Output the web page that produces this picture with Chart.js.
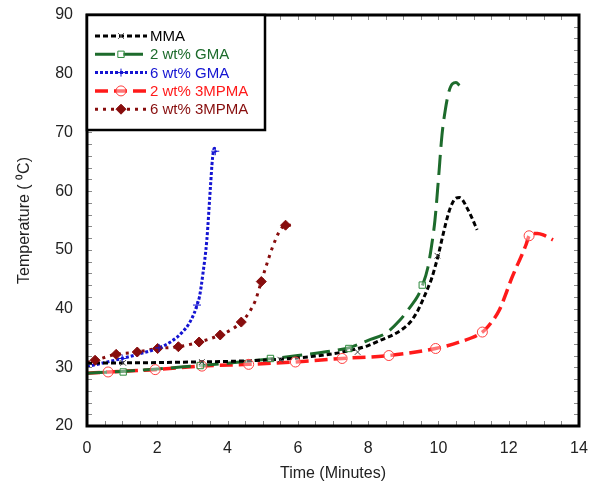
<!DOCTYPE html>
<html><head><meta charset="utf-8">
<script src="https://cdn.jsdelivr.net/npm/chart.js@4/dist/chart.umd.min.js"></script>
<style>html,body{margin:0;padding:0;background:#fff}#wrap{width:601px;height:493px}</style>
</head><body><div id="wrap"><canvas id="c" width="601" height="493"></canvas></div>
<script>
// ---- data ----
const seriesNames = ["MMA", "2 wt% GMA", "6 wt% GMA", "2 wt% 3MPMA", "6 wt% 3MPMA"];

const mmaTime = [0, 1, 2, 3, 4, 5, 6, 7, 7.5, 8, 8.35, 8.7, 9.0, 9.2, 9.4, 9.55, 9.7, 9.8, 9.9, 10.0, 10.1, 10.2, 10.3, 10.4, 10.5, 10.6, 10.7, 10.8, 10.95, 11.1];
const mmaTemp = [30.7, 30.75, 30.8, 30.9, 31.0, 31.2, 31.6, 32.3, 32.9, 33.7, 34.6, 35.5, 36.6, 37.7, 39.5, 41.4, 43.5, 45.0, 47.0, 49.2, 51.8, 54.3, 56.5, 58.0, 58.8, 58.9, 58.4, 57.3, 55.5, 53.4];
const mmaMarkTime = [1.03, 3.27, 5.5, 7.7, 9.97];
const mmaMarkTemp = [30.75, 30.9, 31.3, 32.6, 49.0];

const gma2Time = [0, 1, 2, 3, 4, 5, 6, 7, 7.5, 8, 8.5, 8.9, 9.2, 9.4, 9.55, 9.7, 9.8, 9.9, 10.0, 10.1, 10.2, 10.3, 10.4, 10.5, 10.6];
const gma2Temp = [29.0, 29.3, 29.7, 30.2, 30.7, 31.3, 32.0, 32.8, 33.4, 34.6, 35.8, 38.0, 40.3, 42.0, 44.0, 47.0, 50.5, 55.0, 62.0, 69.5, 74.0, 77.0, 78.3, 78.5, 78.0];
const gma2MarkTime = [1.03, 3.22, 5.22, 7.45, 9.54];
const gma2MarkTemp = [29.2, 30.3, 31.5, 33.2, 44.0];

const gma6Time = [0, 0.5, 1.0, 1.5, 2.0, 2.4, 2.7, 2.9, 3.05, 3.13, 3.2, 3.3, 3.41, 3.51, 3.57, 3.62, 3.67];
const gma6Temp = [30.1, 30.8, 31.5, 32.3, 33.2, 34.4, 35.9, 37.4, 39.2, 40.6, 42.0, 46.0, 51.7, 60.5, 65.5, 67.3, 66.6];
const gma6MarkTime = [1.0, 2.05, 3.13, 3.65];
const gma6MarkTemp = [31.5, 33.3, 40.6, 66.8];

const mpma2Time = [0, 0.6, 1.94, 3.27, 4.6, 5.93, 7.26, 8.59, 9.92, 10.6, 11.25, 11.5, 11.73, 11.9, 12.06, 12.2, 12.35, 12.5, 12.58, 12.7, 12.82, 13.0, 13.26];
const mpma2Temp = [29.0, 29.2, 29.6, 30.2, 30.5, 30.9, 31.5, 32.0, 33.2, 34.3, 36.0, 37.6, 39.7, 42.2, 44.8, 46.8, 48.8, 51.0, 52.4, 52.8, 52.8, 52.5, 51.7];
const mpma2MarkTime = [0.6, 1.94, 3.27, 4.6, 5.93, 7.26, 8.59, 9.92, 11.25, 12.58];
const mpma2MarkTemp = [29.2, 29.6, 30.2, 30.5, 30.9, 31.5, 32.0, 33.2, 36.0, 52.4];

const mpma6Time = [0, 0.23, 0.83, 1.43, 2.01, 2.6, 3.19, 3.79, 4.1, 4.39, 4.6, 4.8, 4.96, 5.08, 5.27, 5.49, 5.65, 5.8];
const mpma6Temp = [30.8, 31.2, 32.2, 32.6, 33.2, 33.5, 34.3, 35.5, 36.4, 37.7, 39.2, 41.5, 44.6, 46.9, 50.3, 53.3, 54.2, 54.2];
const mpma6MarkTime = [0.23, 0.83, 1.43, 2.01, 2.6, 3.19, 3.79, 4.39, 4.96, 5.65];
const mpma6MarkTemp = [31.2, 32.2, 32.6, 33.2, 33.5, 34.3, 35.5, 37.7, 44.6, 54.2];

const xTicks = [0, 2, 4, 6, 8, 10, 12, 14];
const yTicks = [20, 30, 40, 50, 60, 70, 80, 90];

// ---- styles ----
const colors = ["#000000", "#1d6b2c", "#1414d2", "#ff1a1a", "#870d0d"];
const dashes = [[5, 3], [20, 8], [3, 2], [13, 6], [3, 5]];
const widths = [3, 3, 3, 3.5, 3];
const pStyles = ["crossRot", "rect", "cross", "circle", "rectRot"];
const pRadius = [4, 4.5, 4, 5, 5];
const pFill = ["transparent", "rgba(255,255,255,0.4)", "transparent", "rgba(255,255,255,0.4)", "#870d0d"];
const pBorder = ["#444", "#2e8b3e", "#1414d2", "#ff4040", "#870d0d"];

function pts(xs, ys) { return xs.map((x, i) => ({x: x, y: ys[i]})); }
const lineData = [pts(mmaTime, mmaTemp), pts(gma2Time, gma2Temp), pts(gma6Time, gma6Temp), pts(mpma2Time, mpma2Temp), pts(mpma6Time, mpma6Temp)];
const markData = [pts(mmaMarkTime, mmaMarkTemp), pts(gma2MarkTime, gma2MarkTemp), pts(gma6MarkTime, gma6MarkTemp), pts(mpma2MarkTime, mpma2MarkTemp), pts(mpma6MarkTime, mpma6MarkTemp)];

const datasets = [];
for (let i = 0; i < 5; i++) {
  datasets.push({
    label: seriesNames[i], data: lineData[i], showLine: true,
    borderColor: colors[i], borderWidth: widths[i], borderDash: dashes[i],
    cubicInterpolationMode: 'monotone', pointRadius: 0, pointHoverRadius: 0,
    borderCapStyle: 'butt', order: 2
  });
}
for (let i = 0; i < 5; i++) {
  datasets.push({
    label: seriesNames[i] + " markers", data: markData[i], showLine: false,
    pointStyle: pStyles[i], pointRadius: pRadius[i], pointBorderWidth: 1,
    pointBackgroundColor: pFill[i], pointBorderColor: pBorder[i], order: 1
  });
}

const FONT = "'Liberation Sans', Arial, sans-serif";

const framePlugin = {
  id: 'frame',
  afterDatasetsDraw(chart) {
    const {ctx, chartArea: a, scales} = chart;
    ctx.save();
    // inner minor ticks
    ctx.strokeStyle = '#8a8a8a'; ctx.lineWidth = 1;
    for (let v = 0.5; v < 14; v += 0.5) {
      const px = Math.round(scales.x.getPixelForValue(v)) + 0.5;
      ctx.beginPath(); ctx.moveTo(px, a.bottom); ctx.lineTo(px, a.bottom - 5);
      ctx.moveTo(px, a.top); ctx.lineTo(px, a.top + 5); ctx.stroke();
    }
    for (let v = 22; v < 90; v += 2) {
      const py = Math.round(scales.y.getPixelForValue(v)) + 0.5;
      ctx.beginPath(); ctx.moveTo(a.left, py); ctx.lineTo(a.left + 5, py);
      ctx.moveTo(a.right, py); ctx.lineTo(a.right - 5, py); ctx.stroke();
    }
    // frame
    ctx.strokeStyle = '#000'; ctx.lineWidth = 3;
    ctx.strokeRect(a.left, a.top, a.right - a.left, a.bottom - a.top);
    // legend
    const lx = a.left, ly = a.top, lw = 178, lh = 115;
    ctx.fillStyle = '#fff';
    ctx.fillRect(lx, ly, lw, lh);
    ctx.lineWidth = 2.5; ctx.strokeStyle = '#000';
    ctx.strokeRect(lx, ly, lw, lh);
    ctx.font = "15px " + FONT;
    ctx.textBaseline = 'middle'; ctx.textAlign = 'left';
    for (let i = 0; i < 5; i++) {
      const y = ly + 21 + i * 18.3;
      ctx.save();
      ctx.strokeStyle = colors[i]; ctx.lineWidth = widths[i];
      ctx.setLineDash(dashes[i]);
      ctx.beginPath(); ctx.moveTo(lx + 8, y); ctx.lineTo(lx + 60, y); ctx.stroke();
      ctx.restore();
      ctx.save();
      ctx.fillStyle = pFill[i]; ctx.strokeStyle = pBorder[i]; ctx.lineWidth = 1;
      Chart.helpers.drawPoint(ctx, {pointStyle: pStyles[i], radius: pRadius[i], borderWidth: 1}, lx + 34, y);
      ctx.restore();
      ctx.fillStyle = colors[i];
      ctx.fillText(seriesNames[i], lx + 63, y + 1);
    }
    ctx.restore();
  }
};

new Chart(document.getElementById('c'), {
  type: 'scatter',
  data: {datasets},
  options: {
    responsive: false, animation: false, devicePixelRatio: 1,
    layout: {padding: {top: 15, right: 22, left: 0, bottom: 0}},
    plugins: {legend: {display: false}, tooltip: {enabled: false}},
    scales: {
      x: {
        type: 'linear', min: 0, max: 14,
        afterFit(s) { s.height = 67; },
        afterBuildTicks(s) { s.ticks = xTicks.map(v => ({value: v})); },
        grid: {display: false, drawTicks: false}, border: {display: false},
        ticks: {padding: 13, color: '#222', font: {size: 16, family: FONT}},
        title: {display: true, text: 'Time (Minutes)', color: '#222', font: {size: 16, family: FONT}, padding: {top: 0, bottom: 10}}
      },
      y: {
        type: 'linear', min: 20, max: 90,
        afterFit(s) { s.width = 87; s.paddingTop = 0; s.paddingBottom = 0; },
        afterBuildTicks(s) { s.ticks = yTicks.map(v => ({value: v})); },
        grid: {display: false, drawTicks: false}, border: {display: false},
        ticks: {padding: 14, color: '#222', font: {size: 16, family: FONT}},
        title: {display: true, text: 'Temperature ( \u2070C)', color: '#222', font: {size: 16, family: FONT}, padding: {top: 15, bottom: 0}}
      }
    }
  },
  plugins: [framePlugin]
});
</script>
</body></html>
